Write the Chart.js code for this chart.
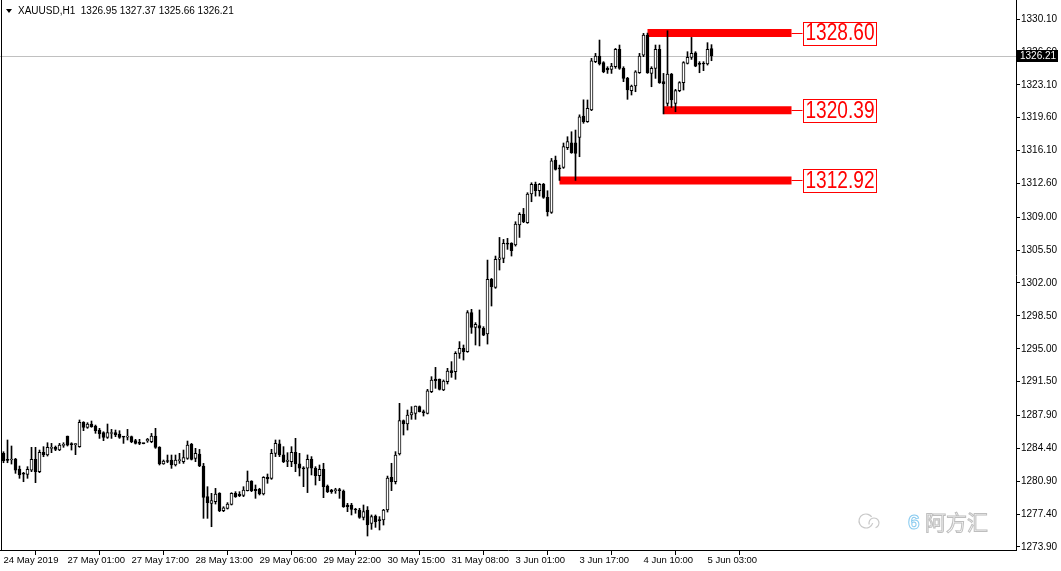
<!DOCTYPE html>
<html><head><meta charset="utf-8">
<script src="https://cdn.jsdelivr.net/npm/chart.js@4.4.0/dist/chart.umd.min.js"></script>
<style>html,body{margin:0;padding:0;background:#fff;}canvas{display:block;}</style>
</head><body>
<canvas id="c" width="1061" height="571"></canvas>
<script>
const symbolTitle = 'XAUUSD,H1';
const lastBarOHLC = [1326.95, 1327.37, 1325.66, 1326.21];
const opens = [
1283.87,1283.23,1283.16,1283.27,1282.20,1281.70,1281.63,1282.09,1283.23,1281.92,
1283.97,1283.69,1284.40,1284.51,1284.22,1284.72,1285.71,1284.86,1284.80,1284.58,
1287.17,1286.64,1286.99,1286.78,1286.35,1286.07,1285.57,1285.98,1286.07,1285.93,
1285.62,1285.60,1285.64,1285.22,1285.00,1284.92,1285.18,1285.11,1285.71,1284.51,
1282.73,1283.05,1283.16,1282.63,1283.10,1282.98,1283.34,1284.83,1283.34,1283.80,
1282.52,1279.26,1278.55,1278.72,1279.61,1277.77,1278.01,1278.44,1279.61,1279.50,
1279.40,1279.89,1280.92,1280.04,1280.04,1279.54,1281.32,1281.21,1283.87,1284.87,
1283.70,1283.00,1282.99,1283.98,1282.74,1282.28,1282.28,1283.23,1282.28,1281.50,
1282.17,1280.39,1279.97,1279.90,1279.95,1279.86,1278.37,1278.37,1277.91,1277.84,
1277.06,1277.84,1276.42,1277.20,1276.74,1276.78,1277.84,1281.32,1280.85,1283.80,
1287.35,1286.99,1287.95,1288.13,1288.84,1288.31,1288.13,1290.43,1291.78,1291.78,
1290.61,1291.50,1292.67,1292.56,1294.51,1295.05,1294.69,1298.84,1297.28,1297.46,
1297.17,1296.57,1302.38,1301.53,1304.51,1304.62,1306.22,1306.22,1306.04,1308.17,
1309.30,1308.42,1311.47,1312.50,1311.82,1312.50,1311.11,1309.52,1315.09,1314.25,
1314.31,1316.40,1316.93,1316.93,1317.50,1319.77,1319.17,1320.41,1325.56,1326.16,
1325.45,1324.85,1324.74,1325.02,1326.87,1324.85,1323.78,1322.47,1322.97,1324.38,
1326.26,1328.39,1324.31,1324.85,1326.87,1323.43,1321.12,1324.24,1321.12,1322.47,
1323.32,1325.38,1326.02,1326.51,1325.38,1325.38,1325.31,1326.95];
const highs = [
1284.04,1285.29,1284.65,1283.34,1282.52,1281.85,1282.45,1284.51,1284.51,1284.22,
1284.58,1285.00,1284.93,1284.65,1284.93,1285.00,1285.71,1285.00,1284.93,1287.42,
1287.24,1287.13,1287.31,1286.88,1286.53,1286.17,1286.99,1286.42,1286.35,1286.28,
1285.64,1286.42,1285.71,1285.36,1285.36,1284.95,1285.46,1285.99,1286.53,1284.58,
1283.16,1283.69,1283.69,1283.69,1283.87,1284.22,1285.18,1284.93,1284.40,1284.29,
1282.80,1280.32,1279.61,1280.14,1279.68,1278.19,1278.62,1279.68,1279.79,1279.79,
1280.32,1281.99,1280.96,1280.50,1280.15,1281.39,1281.67,1284.30,1285.29,1285.29,
1284.58,1283.94,1284.58,1285.47,1283.87,1282.45,1283.70,1283.52,1282.45,1282.63,
1282.81,1280.50,1280.04,1280.15,1280.15,1279.97,1278.55,1278.55,1278.02,1278.02,
1278.37,1278.20,1277.31,1277.31,1277.13,1277.91,1281.45,1282.81,1284.05,1289.19,
1287.42,1288.48,1288.84,1288.91,1288.91,1288.48,1290.68,1292.03,1293.02,1291.78,
1291.68,1292.92,1293.63,1294.69,1295.76,1295.40,1299.06,1299.20,1297.78,1299.13,
1297.35,1304.44,1302.49,1304.87,1306.85,1306.64,1306.75,1306.29,1308.52,1309.48,
1309.94,1311.61,1312.67,1312.74,1312.60,1312.60,1311.82,1315.26,1315.51,1314.55,
1316.90,1317.57,1318.10,1318.28,1319.90,1321.50,1321.48,1325.91,1326.44,1327.86,
1325.56,1325.02,1325.38,1326.97,1327.33,1325.02,1323.89,1323.07,1324.60,1326.44,
1328.57,1328.60,1325.02,1327.33,1327.33,1324.31,1328.85,1324.31,1322.61,1323.43,
1325.56,1326.62,1328.14,1326.62,1325.56,1325.56,1327.58,1327.37];
const lows = [
1282.87,1282.87,1282.73,1281.74,1281.21,1280.85,1281.21,1281.92,1280.75,1281.81,
1283.51,1283.58,1283.94,1284.15,1284.15,1284.51,1284.65,1284.22,1283.73,1284.51,
1286.28,1286.53,1286.64,1286.00,1285.46,1285.22,1285.46,1285.46,1285.64,1285.46,
1284.93,1285.29,1285.00,1284.86,1284.79,1284.88,1285.04,1285.00,1284.40,1282.63,
1282.70,1282.87,1282.27,1282.52,1282.80,1282.80,1283.23,1283.16,1282.98,1282.45,
1276.95,1276.95,1276.06,1278.47,1277.66,1277.66,1277.94,1278.37,1279.18,1279.26,
1279.26,1279.86,1279.79,1279.08,1279.44,1279.44,1280.68,1281.10,1283.52,1283.52,
1282.88,1282.45,1282.45,1281.92,1281.46,1280.32,1279.69,1281.57,1280.50,1280.96,
1279.15,1279.69,1279.61,1279.61,1279.08,1278.12,1277.66,1277.31,1277.49,1276.95,
1276.78,1275.07,1275.78,1275.99,1275.71,1276.24,1277.62,1279.90,1280.61,1283.69,
1285.82,1286.35,1287.49,1287.49,1288.27,1287.84,1288.06,1290.33,1290.79,1290.61,
1290.54,1291.25,1291.96,1291.75,1293.98,1293.80,1294.62,1296.64,1295.40,1295.30,
1296.39,1295.50,1299.55,1301.43,1303.38,1304.16,1305.58,1304.87,1305.93,1306.85,
1308.42,1308.35,1310.65,1311.25,1311.25,1311.01,1309.13,1309.41,1314.02,1312.92,
1314.20,1316.20,1315.80,1312.92,1315.44,1319.00,1319.10,1320.34,1325.45,1325.20,
1324.38,1324.31,1324.31,1324.85,1324.74,1323.43,1321.55,1322.01,1322.36,1324.31,
1326.09,1324.31,1322.89,1323.78,1323.25,1320.00,1320.84,1320.69,1320.23,1322.36,
1322.54,1325.31,1325.80,1325.02,1324.38,1324.60,1325.20,1325.66];
const closes = [
1283.09,1283.12,1283.20,1282.09,1281.56,1281.65,1282.16,1283.23,1281.92,1283.97,
1283.69,1284.51,1284.48,1284.29,1284.75,1284.80,1284.75,1284.80,1284.85,1287.17,
1286.64,1286.99,1286.71,1286.28,1285.93,1285.57,1286.07,1286.03,1285.82,1285.57,
1285.60,1285.62,1285.11,1284.93,1284.93,1284.90,1285.36,1285.71,1284.51,1282.73,
1283.05,1283.00,1282.63,1283.16,1283.16,1283.41,1284.75,1283.23,1283.87,1282.52,
1279.18,1278.62,1278.83,1279.54,1277.77,1278.08,1278.47,1279.61,1279.26,1279.36,
1279.97,1280.92,1279.89,1279.89,1279.54,1281.32,1281.14,1283.87,1284.94,1283.70,
1282.99,1283.16,1283.98,1282.74,1282.28,1282.22,1283.23,1282.28,1281.50,1282.17,
1280.32,1279.79,1279.79,1279.95,1279.90,1278.20,1278.20,1277.91,1277.84,1277.06,
1277.66,1276.24,1277.13,1276.60,1276.71,1277.84,1281.24,1280.85,1283.69,1287.35,
1286.99,1287.95,1288.20,1288.91,1288.31,1288.20,1290.51,1291.68,1291.61,1290.68,
1291.57,1292.63,1292.46,1294.51,1295.05,1294.69,1298.84,1297.28,1297.60,1297.18,
1296.46,1302.38,1301.60,1304.51,1304.69,1306.22,1306.14,1305.44,1308.27,1309.30,
1308.52,1311.47,1312.50,1311.82,1312.50,1311.11,1309.59,1315.01,1314.09,1314.15,
1316.51,1317.04,1315.87,1315.80,1319.70,1319.17,1320.59,1325.66,1326.16,1325.31,
1324.49,1324.67,1325.09,1326.87,1324.85,1323.78,1322.54,1322.97,1324.49,1326.16,
1328.39,1324.38,1324.85,1326.87,1323.32,1323.18,1324.24,1321.48,1322.47,1323.32,
1325.45,1326.02,1326.44,1325.09,1325.27,1325.31,1326.87,1326.21];
const timeLabels = ['24 May 2019','27 May 01:00','27 May 17:00','28 May 13:00','29 May 06:00','29 May 22:00',
  '30 May 15:00','31 May 08:00','3 Jun 01:00','3 Jun 17:00','4 Jun 10:00','5 Jun 03:00'];
const barsPerLabel = 16;
const priceTicks = [1330.10,1326.60,1323.10,1319.60,1316.10,1312.60,1309.00,1305.50,1302.00,
  1298.50,1295.00,1291.50,1287.90,1284.40,1280.90,1277.40,1273.90];
const currentPrice = 1326.21;
const levelValues = [1328.60, 1320.39, 1312.92];
const levelStartBar = [161, 165, 139];
const levelEndBar = 197;

const bodyData = opens.map((o, i) => ({x: i, y: [o, closes[i]]}));
const wickData = lows.map((l, i) => ({x: i, y: [l, highs[i]]}));
const bodyFill = opens.map((o, i) => closes[i] >= o ? '#ffffff' : '#000000');

const FONT = '"Liberation Sans", Arial, sans-serif';

const levelSets = levelValues.map((v, k) => ({
  type: 'line',
  data: [{x: levelStartBar[k], y: v}, {x: levelEndBar, y: v}],
  borderColor: '#ff0000', borderWidth: 8, pointRadius: 0, borderCapStyle: 'butt',
  fill: false, tension: 0, order: 3
}));

const overlay = {
  id: 'overlay',
  beforeDatasetsDraw(chart) {
    const {ctx, chartArea, scales} = chart;
    const y = Math.round(scales.y.getPixelForValue(currentPrice)) + 0.5;
    ctx.save();
    ctx.strokeStyle = '#c0c0c0'; ctx.lineWidth = 1;
    ctx.beginPath(); ctx.moveTo(chartArea.left, y); ctx.lineTo(chartArea.right, y); ctx.stroke();
    ctx.restore();
  },
  afterDraw(chart) {
    const {ctx, chartArea, scales} = chart;
    ctx.save();
    ctx.strokeStyle = '#000'; ctx.lineWidth = 1;
    ctx.beginPath(); ctx.moveTo(1.5, 0); ctx.lineTo(1.5, chartArea.bottom); ctx.stroke();
    ctx.fillStyle = '#000';
    ctx.beginPath(); ctx.moveTo(6, 9); ctx.lineTo(12, 9); ctx.lineTo(9, 13); ctx.closePath(); ctx.fill();
    ctx.font = '10px ' + FONT; ctx.textBaseline = 'middle'; ctx.textAlign = 'left';
    ctx.fillText(symbolTitle + '  ' + lastBarOHLC.map(v => v.toFixed(2)).join(' '), 18, 11);
    const py = Math.round(scales.y.getPixelForValue(currentPrice));
    ctx.fillStyle = '#000';
    ctx.fillRect(chartArea.right + 1, py - 6, 41, 12);
    ctx.fillStyle = '#fff'; ctx.font = '10px ' + FONT;
    ctx.fillText(currentPrice.toFixed(2), chartArea.right + 4, py + 0.5);
    const ex = scales.x.getPixelForValue(levelEndBar);
    levelValues.forEach(v => {
      const ly = scales.y.getPixelForValue(v);
      ctx.strokeStyle = '#ff0000'; ctx.lineWidth = 1;
      ctx.beginPath(); ctx.moveTo(ex, Math.round(ly) + 0.5); ctx.lineTo(ex + 11, Math.round(ly) + 0.5); ctx.stroke();
      const bx = Math.round(ex + 11) + 0.5, by = Math.round(ly - 11.5) + 0.5;
      ctx.fillStyle = '#fff'; ctx.fillRect(bx, by, 73, 23);
      ctx.strokeRect(bx, by, 73, 23);
      const txt = v.toFixed(2);
      ctx.font = '23px ' + FONT; ctx.textAlign = 'center'; ctx.textBaseline = 'middle';
      const w = ctx.measureText(txt).width;
      ctx.save();
      ctx.translate(bx + 36.5, ly + 1);
      ctx.scale(69 / w, 1);
      ctx.fillStyle = '#ff0000';
      ctx.fillText(txt, 0, 0);
      ctx.restore();
    });
    ctx.globalAlpha = 0.75;
    ctx.strokeStyle = '#b5b5b5'; ctx.lineWidth = 1.2;
    ctx.beginPath(); ctx.arc(866, 521, 7, 0.3, Math.PI * 1.8); ctx.stroke();
    ctx.beginPath(); ctx.arc(874, 523, 5, Math.PI * 0.9, Math.PI * 2.4); ctx.stroke();
    ctx.textAlign = 'left'; ctx.textBaseline = 'middle';
    ctx.font = 'bold 21px ' + FONT;
    ctx.strokeStyle = '#5fb8ea'; ctx.lineWidth = 1;
    ctx.strokeText('6', 908, 523);
    ctx.font = '21px "Noto Sans CJK SC"';
    ctx.strokeStyle = '#a8a8a8';
    ctx.strokeText('阿方汇', 925, 522);
    ctx.restore();
  }
};

new Chart(document.getElementById('c'), {
  type: 'bar',
  data: {
    datasets: [
      {data: bodyData, backgroundColor: bodyFill, borderColor: '#000', borderWidth: 1,
       borderSkipped: false, barThickness: 3, minBarLength: 1, grouped: false, order: 0},
      {data: wickData, backgroundColor: '#000', borderWidth: 0, barThickness: 1,
       grouped: false, order: 1},
      ...levelSets
    ]
  },
  options: {
    responsive: false, animation: false, devicePixelRatio: 1,
    layout: {padding: 0},
    plugins: {legend: {display: false}, tooltip: {enabled: false}, title: {display: false}},
    scales: {
      x: {
        type: 'linear', min: -0.875, max: 253.125, offset: false,
        afterBuildTicks: s => { s.ticks = timeLabels.map((t, k) => ({value: k * barsPerLabel})); },
        afterFit: s => { s.height = 21; s.paddingLeft = 0; s.paddingRight = 0; },
        ticks: {
          autoSkip: false, maxRotation: 0, minRotation: 0, align: 'start', labelOffset: 0, padding: 0,
          color: '#000', font: {family: FONT, size: 9.5},
          callback: v => timeLabels[Math.round(v / barsPerLabel)] || ''
        },
        grid: {display: true, drawOnChartArea: false, drawTicks: true, tickLength: 5, color: '#000'},
        border: {display: true, color: '#000', width: 1}
      },
      y: {
        type: 'linear', position: 'right', min: 1273.5806, max: 1332.1224,
        afterBuildTicks: s => { s.ticks = priceTicks.map(v => ({value: v})); },
        afterFit: s => { s.width = 45; s.paddingTop = 0; s.paddingBottom = 0; },
        ticks: {
          padding: 1, color: '#000', font: {family: FONT, size: 10},
          callback: v => Number(v).toFixed(2)
        },
        grid: {display: true, drawOnChartArea: false, drawTicks: true, tickLength: 4, color: '#000'},
        border: {display: true, color: '#000', width: 1}
      }
    }
  },
  plugins: [overlay]
});
</script>
</body></html>
